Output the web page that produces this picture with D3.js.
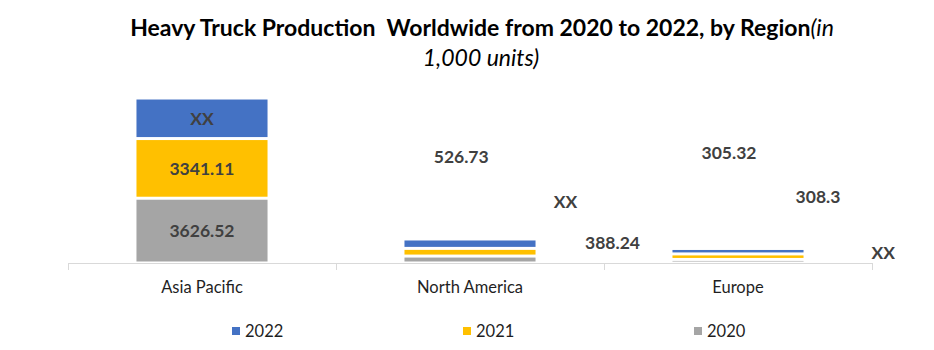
<!DOCTYPE html>
<html>
<head>
<meta charset="utf-8">
<script src="https://cdn.jsdelivr.net/npm/d3@7/dist/d3.min.js"></script>
<style>
  html, body { margin: 0; padding: 0; background: #ffffff; }
  svg { display: block; }
</style>
</head>
<body>
<svg id="chart" width="934" height="350"></svg>
<script>
// Heavy truck production by region, thousands of units
const categories = ["Asia Pacific", "North America", "Europe"];
const seriesKeys = ["2020", "2021", "2022"];          // stacking order, bottom to top
const legendKeys = ["2022", "2021", "2020"];
const values2020 = [3626.52, 388.24, 200];
const values2021 = [3341.11, 430, 308.3];
const values2022 = [2270, 526.73, 305.32];
const labels2020 = ["3626.52", "388.24", "XX"];
const labels2021 = ["3341.11", "XX", "308.3"];
const labels2022 = ["XX", "526.73", "305.32"];

const colors = { "2022": "#4472C4", "2021": "#FFC000", "2020": "#A5A5A5" };

// label nudges (px) from each segment's centre, per category, per series
const labelNudge = {
  "Asia Pacific":  { "2020": [0, 0],         "2021": [0, 0],      "2022": [0, 0] },
  "North America": { "2020": [142.5, -16.5], "2021": [95.5, -50.5], "2022": [-8.8, -87] },
  "Europe":        { "2020": [145.3, -9],    "2021": [80, -60],    "2022": [-9, -98] }
};

const rows = categories.map((c, i) => ({
  category: c,
  "2020": values2020[i], "2021": values2021[i], "2022": values2022[i],
  labels: { "2020": labels2020[i], "2021": labels2021[i], "2022": labels2022[i] }
}));

const svg = d3.select("#chart");
const baseFont = "Lato, 'Open Sans', sans-serif";

const x = d3.scaleBand().domain(categories).range([68, 872]).paddingInner(0.511).paddingOuter(0.2555);
const y = d3.scaleLinear().domain([0, 10000]).range([263, 84.4]);

const stacked = d3.stack().keys(seriesKeys)(rows);

// bars, with a thin white gap between stacked segments
const gap = 1.5;
const layers = svg.append("g").selectAll("g")
  .data(stacked).join("g")
  .attr("fill", d => colors[d.key]);

layers.selectAll("rect")
  .data(d => d.map(p => ({ p, key: d.key })))
  .join("rect")
  .attr("x", d => x(d.p.data.category))
  .attr("width", x.bandwidth())
  .attr("y", d => y(d.p[1]) + gap)
  .attr("height", d => Math.max(0, y(d.p[0]) - y(d.p[1]) - 2 * gap));

// category axis with tick marks between categories
const axisG = svg.append("g").attr("transform", "translate(0,263)");
const axis = d3.axisBottom(x).tickSize(0).tickPadding(0);
axisG.call(axis);
axisG.select(".domain").attr("stroke", "#d9d9d9").attr("stroke-width", 1)
  .attr("d", "M68.5,0.5H872.5");
axisG.selectAll(".tick text")
  .attr("y", 24)
  .attr("dy", "0.35em")
  .attr("font-family", baseFont)
  .attr("font-size", 16.5)
  .attr("fill", "#1f1f1f");
const boundaries = [x.range()[0]].concat(categories.map(c => x(c) - x.step() * x.paddingInner() / 2 + x.step()));
axisG.selectAll("line.sep")
  .data(boundaries).join("line")
  .attr("class", "sep")
  .attr("x1", d => Math.round(d) + 0.5).attr("x2", d => Math.round(d) + 0.5)
  .attr("y1", 0).attr("y2", 7)
  .attr("stroke", "#d9d9d9");

// data labels
const labelG = svg.append("g");
stacked.forEach(layer => {
  layer.forEach(p => {
    const cat = p.data.category;
    const nudge = labelNudge[cat][layer.key];
    const cx = x(cat) + x.bandwidth() / 2 + nudge[0];
    const cy = (y(p[0]) + y(p[1])) / 2 + nudge[1];
    labelG.append("text")
      .attr("x", cx).attr("y", cy)
      .attr("dy", "0.36em")
      .attr("text-anchor", "middle")
      .attr("font-family", baseFont)
      .attr("font-weight", 700)
      .attr("font-size", 17.5)
      .attr("fill", "#404040")
      .text(p.data.labels[layer.key]);
  });
});

// title
const title = svg.append("text")
  .attr("x", 482).attr("y", 28).attr("dy", "0.35em")
  .attr("text-anchor", "middle")
  .attr("font-family", baseFont)
  .attr("font-size", 20)
  .attr("fill", "#000");
title.append("tspan").attr("font-weight", 700)
  .text("Heavy Truck Production\u00a0 Worldwide from 2020 to 2022, by Region");
title.append("tspan").attr("font-style", "italic").text("(in");
const t1 = title.node().getComputedTextLength();
title.attr("font-size", 20 * 704 / t1);

svg.append("text")
  .attr("x", 481).attr("y", 58).attr("dy", "0.35em")
  .attr("text-anchor", "middle")
  .attr("font-family", baseFont)
  .attr("font-style", "italic")
  .attr("font-size", title.attr("font-size"))
  .attr("fill", "#000")
  .text("1,000 units)");

// legend
const legendX = [232, 463, 694];
const legend = svg.append("g").selectAll("g")
  .data(legendKeys).join("g")
  .attr("transform", (d, i) => `translate(${legendX[i]},331)`);
legend.append("rect")
  .attr("x", 0).attr("y", -4).attr("width", 8).attr("height", 8)
  .attr("fill", d => colors[d]);
legend.append("text")
  .attr("x", 13).attr("y", 0).attr("dy", "0.36em")
  .attr("font-family", baseFont)
  .attr("font-size", 16.5)
  .attr("fill", "#1f1f1f")
  .text(d => d);
</script>
</body>
</html>
